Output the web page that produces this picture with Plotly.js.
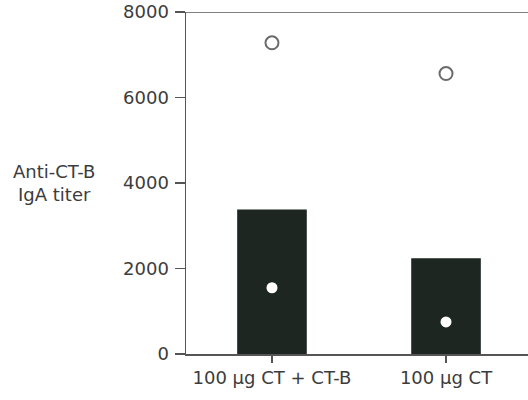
<!DOCTYPE html>
<html>
<head>
<meta charset="utf-8">
<script src="https://cdn.plot.ly/plotly-3.0.1.min.js"></script>
<style>html,body{margin:0;padding:0;background:#fff;}#chart{width:528px;height:400px;}</style>
</head>
<body>
<div id="chart"></div>
<script>
const categories = ["100 \u00b5g CT + CT-B", "100 \u00b5g CT"];
const barValues = [3380, 2240];
const openPointValues = [7280, 6560];
const filledPointValues = [1550, 750];
const yTickValues = [0, 2000, 4000, 6000, 8000];
const yTitleLines = ["Anti-CT-B", "IgA titer"];

const textColor = "#3c3c3c";
const fontFamily = "DejaVu Sans, Liberation Sans, Arial, sans-serif";

const traces = [
  {
    type: "bar",
    x: categories,
    y: barValues,
    width: 0.4,
    marker: {color: "#1d2621", line: {width: 0}},
    hoverinfo: "skip"
  },
  {
    type: "scatter",
    mode: "markers",
    x: categories,
    y: openPointValues,
    marker: {symbol: "circle-open", size: 13, color: "#6a6a6a", line: {width: 2, color: "#6a6a6a"}},
    cliponaxis: false
  },
  {
    type: "scatter",
    mode: "markers",
    x: categories,
    y: filledPointValues,
    marker: {symbol: "circle", size: 11, color: "#ffffff", line: {width: 0}}
  }
];

const layout = {
  width: 528,
  height: 400,
  margin: {l: 186, r: 0, t: 12, b: 46},
  paper_bgcolor: "#fff",
  plot_bgcolor: "#fff",
  showlegend: false,
  font: {family: fontFamily, size: 18, color: textColor},
  xaxis: {
    type: "category",
    range: [-0.494, 1.471],
    showline: true,
    linecolor: "#555",
    linewidth: 1.5,
    ticks: "outside",
    ticklen: 7,
    tickcolor: "#555",
    tickwidth: 1.5,
    showgrid: false,
    zeroline: false,
    tickfont: {family: fontFamily, size: 18, color: textColor},
    fixedrange: true
  },
  yaxis: {
    range: [0, 8000],
    tickvals: yTickValues,
    ticktext: yTickValues.map(String),
    showline: true,
    linecolor: "#555",
    linewidth: 1.5,
    ticks: "outside",
    ticklen: 10,
    tickcolor: "#555",
    tickwidth: 1.5,
    showgrid: false,
    zeroline: false,
    tickfont: {family: fontFamily, size: 18, color: textColor},
    ticklabelstandoff: 2,
    fixedrange: true
  },
  shapes: [
    {
      type: "line", xref: "paper", yref: "y",
      x0: 0, x1: 1, y0: 8000, y1: 8000,
      line: {color: "#555", width: 1.5}
    }
  ],
  annotations: [
    {
      xref: "paper", yref: "paper",
      x: -0.385, y: 0.5,
      xanchor: "center", yanchor: "middle",
      text: yTitleLines.join("<br>"),
      showarrow: false,
      align: "center",
      font: {family: fontFamily, size: 18, color: textColor}
    }
  ]
};

Plotly.newPlot("chart", traces, layout, {displayModeBar: false, staticPlot: true});
</script>
</body>
</html>
